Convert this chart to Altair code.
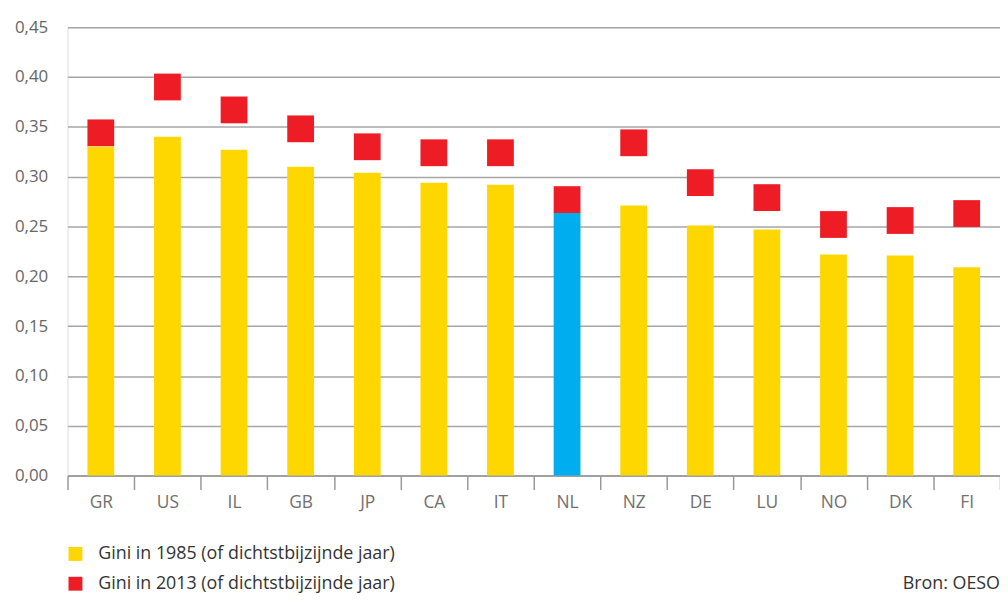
import altair as alt
import pandas as pd

countries = ["GR", "US", "IL", "GB", "JP", "CA", "IT", "NL", "NZ", "DE", "LU", "NO", "DK", "FI"]
gini_1985 = [0.330, 0.340, 0.327, 0.310, 0.304, 0.294, 0.292, 0.264, 0.271, 0.251, 0.247, 0.222, 0.221, 0.209]
gini_2013 = [0.344, 0.390, 0.367, 0.348, 0.330, 0.324, 0.324, 0.277, 0.334, 0.294, 0.279, 0.252, 0.256, 0.263]
label_1985 = "Gini in 1985 (of dichtstbijzijnde jaar)"
label_2013 = "Gini in 2013 (of dichtstbijzijnde jaar)"
highlight = "NL"
y_ticks = [0.0, 0.05, 0.10, 0.15, 0.20, 0.25, 0.30, 0.35, 0.40, 0.45]
source_note = ["Bron: OESO"]

FONT = "Open Sans"

df = pd.DataFrame({"land": countries, "g85": gini_1985, "g13": gini_2013})
df["reeks85"] = [highlight if c == highlight else label_1985 for c in countries]
df["reeks13"] = label_2013

color_scale = alt.Scale(domain=[label_1985, label_2013, highlight],
                        range=["#FFD700", "#EE1D25", "#00AEEF"])

legend = alt.Legend(values=[label_1985, label_2013], orient="none", legendX=-1, legendY=522,
                    title=None, symbolType="square", symbolSize=196, symbolStrokeWidth=0,
                    labelFontSize=18, labelFont=FONT, labelColor="#333333", labelOffset=14,
                    labelLimit=0, rowPadding=12, direction="vertical")

x = alt.X("land:N", sort=countries, title=None,
          scale=alt.Scale(paddingInner=0, paddingOuter=0),
          axis=alt.Axis(labelAngle=0, labelFontSize=17.5, labelFont=FONT, labelColor="#707070",
                        labelPadding=4, tickBand="extent", tickSize=14, tickColor="#999999",
                        tickWidth=1.5, domainColor="#999999", domainWidth=1.5, grid=False))

y_axis = alt.Axis(values=y_ticks, title=None, domain=False, ticks=False,
                  labelExpr="replace(format(datum.value, '.2f'), '.', ',')",
                  labelFontSize=17, labelFont=FONT, labelColor="#666666", labelPadding=20,
                  gridColor="#A6A6A6", gridWidth=1.5)

bars = alt.Chart(df).mark_bar(size=27).encode(
    x=x,
    y=alt.Y("g85:Q", scale=alt.Scale(domain=[0, 0.45], nice=False), axis=y_axis),
    color=alt.Color("reeks85:N", scale=color_scale, legend=legend),
)

squares = alt.Chart(df).mark_square(size=729, opacity=1, filled=True).encode(
    x=alt.X("land:N", sort=countries),
    y=alt.Y("g13:Q"),
    color=alt.Color("reeks13:N", scale=color_scale, legend=legend),
)

note = alt.Chart(pd.DataFrame({"note": source_note})).mark_text(
    align="right", baseline="alphabetic", fontSize=18, font=FONT, color="#333333"
).encode(text="note:N", x=alt.value(940), y=alt.value(566))

chart = alt.layer(bars, squares, note).properties(
    width=940, height=452,
    padding={"left": 60, "top": 17, "right": 0, "bottom": 117},
    autosize=alt.AutoSizeParams(type="none"),
).configure_view(stroke=None).configure(background="white")

chart.save("out.html", embed_options={"renderer": "svg", "actions": False})
